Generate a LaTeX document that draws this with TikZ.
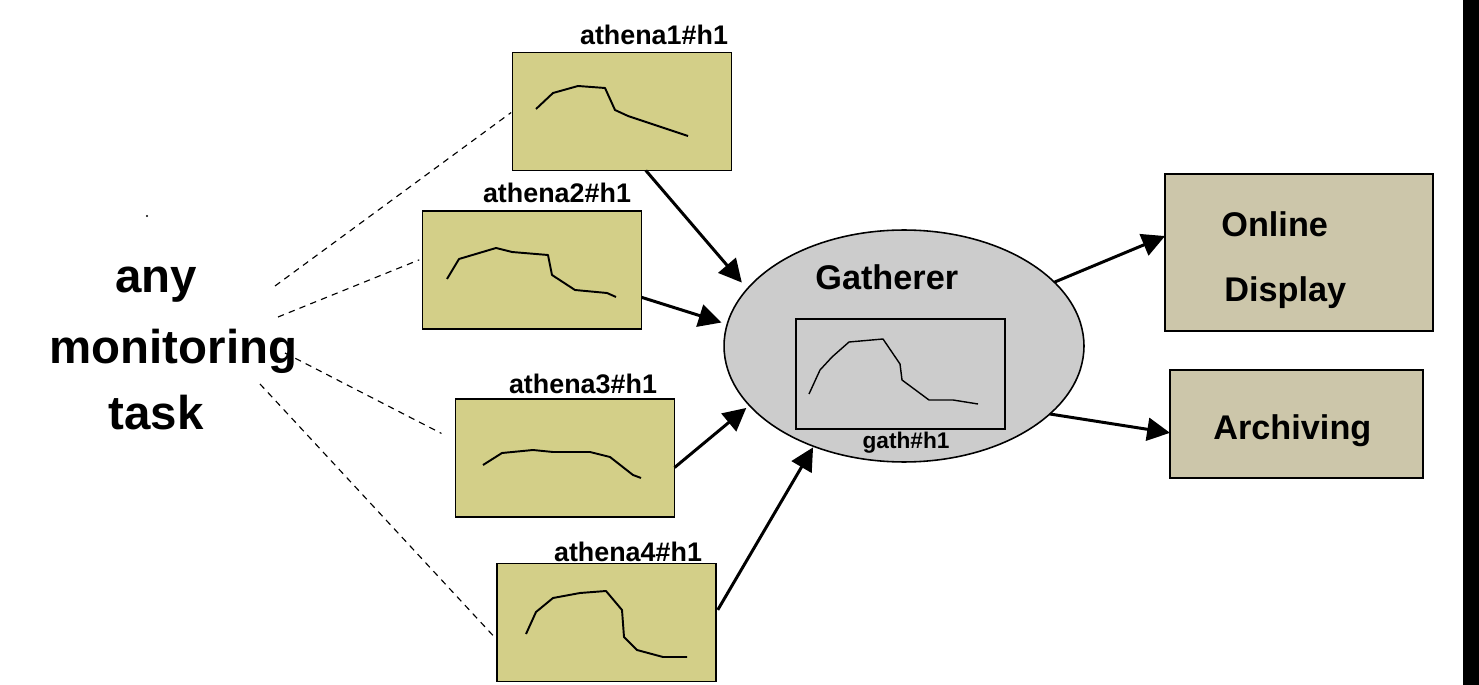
\documentclass[tikz,border=0pt]{standalone}
\usepackage{fontspec}
\setmainfont{Liberation Sans}
\usetikzlibrary{arrows.meta,shapes.geometric}

\definecolor{histfill}{HTML}{D3CF88}
\definecolor{outfill}{HTML}{CCC6AA}
\definecolor{gathfill}{HTML}{CCCCCC}

\begin{document}
\begin{tikzpicture}[x=0.02cm, y=-0.02cm,
    histo/.style ={rectangle, draw, line width=1pt, fill=histfill,
      minimum width=4.38cm, minimum height=2.36cm, inner sep=0pt, outer sep=0pt},
    output/.style ={rectangle, draw, line width=1pt, fill=outfill,
      inner sep=0pt, outer sep=0pt},
    hlabel/.style ={font=\fontsize{15.3}{18}\selectfont\bfseries, anchor=base, inner sep=0pt},
    big/.style ={font=\fontsize{19.5}{23}\selectfont\bfseries, anchor=base west, inner sep=0pt},
    task/.style ={font=\fontsize{27}{32}\selectfont\bfseries, anchor=base, inner sep=0pt},
    curve/.style ={line width=1.1pt, line join=round},
    feed/.style ={line width=1.7pt, -{Triangle[length=13pt, width=13pt]}},
    link/.style ={line width=0.65pt, dash pattern=on 3.6pt off 3pt}]
   \useasboundingbox (0,0) rectangle (1479,685);
   \fill (1463,0) rectangle (1479,685);
   \fill (147,216) circle (0.6pt);

   % monitoring task
   \node[task] (T1) at (156,293) {any};
   \node[task] (T2) at (173.5,363) {monitoring};
   \node[task] (T3) at (156,429) {task};
   \coordinate (D1) at (275,286);
   \coordinate (D2) at (278,317);
   \coordinate (D3) at (285,353);
   \coordinate (D4) at (260,384);

   % histograms of the athena tasks
   \node[histo] (A1) at (622,111.5) {};
   \node[histo] (A2) at (532,270) {};
   \node[histo] (A3) at (565,458) {};
   \node[histo] (A4) at (606.5,622.5) {};
   \node[hlabel] (L1) at (654,45) {athena1\#h1};
   \node[hlabel] (L2) at (557,203) {athena2\#h1};
   \node[hlabel] (L3) at (583,394) {athena3\#h1};
   \node[hlabel] (L4) at (628,561) {athena4\#h1};
   \draw[curve] (536,109) -- (553,93) -- (578,86) -- (605,88) -- (615,110)
     -- (628,116) -- (688,136);
   \draw[curve] (447,279) -- (459,259) -- (496,248) -- (512,252) -- (548,255)
     -- (552,275) -- (575,290) -- (607,293) -- (616,297);
   \draw[curve] (483,465) -- (502,453) -- (533,450) -- (553,452) -- (590,452)
     -- (610,457) -- (633,475) -- (641,478);
   \draw[curve] (526,634) -- (536,612) -- (553,598) -- (580,593) -- (606,591)
     -- (622,610) -- (624,637) -- (637,650) -- (663,657) -- (687,657);

   % gatherer
   \node[ellipse, draw, line width=0.9pt, fill=gathfill, minimum width=7.2cm,
     minimum height=4.64cm, inner sep=0pt, outer sep=0pt] (G) at (904,346) {};
   \node[big] (GT) at (815,290) {Gatherer};
   \node[draw, line width=0.8pt, minimum width=4.18cm, minimum height=2.2cm,
     inner sep=0pt, outer sep=0pt] (GH) at (900.5,374) {};
   \node[font=\fontsize{12.9}{15}\selectfont\bfseries, anchor=base, inner sep=0pt]
     (GL) at (906,448) {gath\#h1};
   \draw[line width=0.8pt, line join=round] (809,394) -- (820,370) -- (832,357)
     -- (849,342) -- (883,339) -- (900,364) -- (902,380) -- (929,400)
     -- (953,400) -- (978,404);

   % consumers
   \node[output, minimum width=5.36cm, minimum height=3.14cm] (OD) at (1299,252.5) {};
   \node[output, minimum width=5.06cm, minimum height=2.16cm] (AR) at (1296.5,424) {};
   \node[big] (ON) at (1221,237) {Online};
   \node[big] (DI) at (1224,302) {Display};
   \node[big] (AV) at (1213,439) {Archiving};

   \draw[link, shorten >=1pt] (D1) -- (A1.west);
   \draw[link, shorten >=2pt] (D2) -- (A2.174);
   \draw[link, shorten >=9pt] (D3) -- (A3.171);
   \draw[link, shorten >=1pt] (D4) -- (A4.189);

   \draw[feed, shorten >=4.8pt] (A1.-68) -- (G.160);
   \draw[feed, shorten >=3.4pt] (A2.-14) -- (G.173);
   \draw[feed, shorten >=2.3pt] (A3.-5) -- (G.201);
   \draw[feed, shorten <=2pt, shorten >=0.7pt] (A4.5) -- (G.228);
   \draw[feed] (G.23) -- (OD.173);
   \draw[feed] (G.-25) -- (AR.184);
 \end{tikzpicture}
\end{document}
